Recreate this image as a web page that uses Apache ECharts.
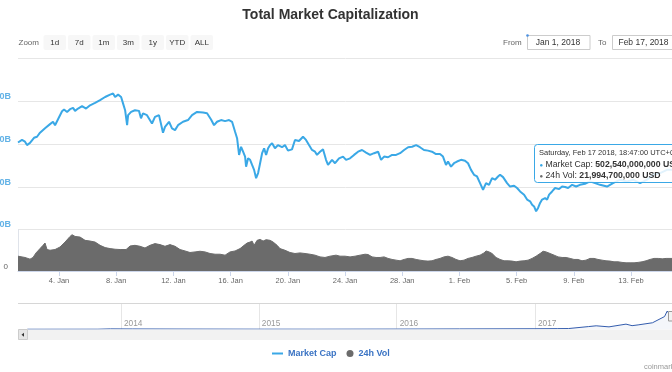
<!DOCTYPE html>
<html><head><meta charset="utf-8">
<script src="https://cdn.jsdelivr.net/npm/echarts@6/dist/echarts.min.js"></script>
<style>html,body{margin:0;padding:0;background:#fff}#c{width:672px;height:372px}</style>
</head><body><div id="c"></div>
<script>
const titleText = 'Total Market Capitalization';
const zoomButtons = ['1d','7d','1m','3m','1y','YTD','ALL'];
const fromText = 'Jan 1, 2018', toText = 'Feb 17, 2018';
const tooltipDate = 'Saturday, Feb 17 2018, 18:47:00 UTC+03';
const capName = 'Market Cap', volName = '24h Vol';
const creditText = 'coinmarketcap.com';
const monthNames = ['Jan','Feb','Mar','Apr','May','Jun','Jul','Aug','Sep','Oct','Nov','Dec'];
// x tick positions: days after 1 Jan 2018 00:00 UTC
const xTickDays = [3,7,11,15,19,23,27,31,35,39,43];
const capAxisMin = 200, capAxisMax = 1000, capAxisStep = 200;
const volAxisMax = 70;
// Market cap (billion USD), day offsets from 1 Jan 2018
const capDays = [0.13,0.41,0.62,0.76,0.97,1.25,1.46,1.67,2.02,2.37,
2.58,2.72,2.93,3.21,3.35,3.56,3.77,3.98,4.12,4.33,
4.61,4.89,5.17,5.52,5.87,6.22,6.57,6.78,6.92,7.13,
7.34,7.48,7.62,7.76,7.83,8.04,8.31,8.59,8.73,8.87,
9.15,9.50,9.71,9.99,10.27,10.41,10.69,10.90,11.11,11.32,
11.67,12.02,12.30,12.65,13.07,13.35,13.63,13.84,14.05,14.33,
14.61,14.89,15.10,15.31,15.45,15.59,15.73,15.87,16.01,16.08,
16.22,16.36,16.50,16.64,16.78,16.92,17.06,17.20,17.34,17.48,
17.62,17.76,17.90,18.10,18.31,18.59,18.80,19.01,19.29,19.50,
19.78,20.06,20.27,20.48,20.69,20.90,21.04,21.25,21.46,21.67,
21.81,22.09,22.30,22.58,22.86,23.07,23.35,23.63,23.91,24.19,
24.47,24.75,25.03,25.31,25.52,25.73,26.01,26.29,26.57,26.85,
27.13,27.41,27.69,27.97,28.24,28.52,28.80,29.08,29.36,29.64,
29.85,30.06,30.20,30.41,30.62,30.83,31.11,31.39,31.60,31.81,
32.02,32.23,32.44,32.65,32.86,33.07,33.28,33.49,33.70,33.84,
34.05,34.33,34.54,34.82,35.03,35.24,35.52,35.73,35.94,36.08,
36.22,36.36,36.50,36.64,36.78,36.99,37.13,37.27,37.48,37.69,
37.97,38.18,38.39,38.60,38.88,39.16,39.43,39.78,40.13,40.48,
40.83,41.32,41.74,42.23,42.72,43.14,43.63,44.12,44.54,45.03,
45.52,45.87,46.78,47.78];
const capVals = [607,619,611,595,605,629,634,653,674,693,
704,688,716,753,761,750,763,769,755,766,
777,766,781,792,805,820,831,836,820,831,
820,789,758,688,735,750,758,755,720,743,
735,696,727,735,653,680,704,673,665,688,
704,712,735,750,747,744,715,688,704,712,
707,712,704,657,627,549,587,564,541,494,
533,526,502,479,440,464,510,557,580,549,
580,595,603,580,595,585,595,569,575,619,
614,634,619,595,572,564,549,564,575,526,
502,526,510,533,541,526,533,549,564,572,
560,549,557,564,526,541,538,549,549,557,
572,585,587,595,585,572,569,564,553,553,
541,502,518,494,510,518,526,522,510,479,
456,448,417,386,417,409,440,433,448,456,
445,417,401,405,394,378,363,340,332,316,
308,285,301,324,340,347,340,363,378,394,
389,401,399,394,409,401,409,414,425,417,
409,401,417,433,425,433,417,433,456,464,
479,479,488,502.54];
// 24h volume (billion USD)
const volDays = [0.13,0.62,0.97,1.18,1.39,1.67,1.88,2.02,2.16,2.37,
2.72,3.07,3.42,3.77,3.91,4.12,4.47,4.82,5.17,5.52,
5.87,6.22,6.57,6.92,7.27,7.69,7.97,8.31,8.66,9.01,
9.36,9.71,10.06,10.41,10.76,11.11,11.46,11.81,12.16,12.51,
12.86,13.21,13.56,13.91,14.26,14.61,14.96,15.31,15.66,15.94,
16.15,16.36,16.50,16.64,16.85,17.06,17.27,17.48,17.76,17.97,
18.25,18.45,18.80,19.15,19.50,19.85,20.20,20.55,20.90,21.25,
21.60,21.95,22.37,22.65,23.00,23.35,23.70,24.05,24.40,24.61,
24.89,25.17,25.45,25.73,26.01,26.29,26.57,26.85,27.13,27.41,
27.69,27.97,28.24,28.52,28.80,29.08,29.36,29.64,29.92,30.20,
30.48,30.76,31.04,31.32,31.60,31.88,32.16,32.44,32.72,32.86,
33.07,33.28,33.56,33.84,34.12,34.40,34.68,34.96,35.24,35.52,
35.80,36.08,36.36,36.64,36.85,37.06,37.34,37.62,37.90,38.18,
38.46,38.74,39.01,39.29,39.57,39.85,40.13,40.41,40.69,40.97,
41.25,41.53,41.81,42.09,42.37,42.65,42.93,43.21,43.49,43.77,
44.05,44.33,44.61,44.90,45.18,45.45,45.87,46.80,47.78];
const volVals = [25.0,22.8,20.0,22.8,30.5,37.8,43.3,47.2,36.2,35.0,
36.2,40.5,48.8,58.3,61.2,58.3,57.2,51.7,50.5,48.8,
43.3,39.5,37.8,36.7,36.2,36.2,42.2,43.3,41.7,38.8,
43.3,46.2,44.5,41.7,44.5,41.7,36.2,33.8,31.2,32.2,
33.3,32.2,29.5,28.3,28.3,26.7,32.2,33.8,37.8,43.3,
47.2,48.8,50.5,43.3,51.7,53.3,50.5,52.8,51.7,48.8,
43.3,37.8,35.0,31.2,29.5,30.5,29.5,28.3,26.7,23.8,
22.8,25.0,26.7,25.0,25.0,23.8,25.0,26.7,28.3,27.8,
23.8,22.8,22.8,23.8,21.2,19.5,18.3,17.2,19.5,21.2,
21.2,19.5,18.3,17.2,16.7,17.2,19.5,21.2,23.8,25.0,
22.8,19.5,17.2,18.3,21.2,22.8,25.0,26.7,30.5,33.8,
32.2,29.5,22.8,19.5,17.2,17.2,16.7,15.5,16.7,17.2,
18.3,21.2,25.0,29.5,33.3,32.2,29.5,26.7,23.8,22.8,
22.8,21.2,19.5,19.5,17.2,18.3,21.2,21.2,19.5,18.3,
17.2,16.7,15.5,15.5,14.5,13.8,13.8,13.8,14.5,15.5,
17.2,19.5,21.2,21.2,20.5,21.2,21.2,21.5,21.9947];
// navigator (full history, billion USD)
const navDates = ['2013-04-28','2013-11-01','2013-12-04','2014-02-01','2014-06-01','2015-01-15','2015-06-01','2016-01-01','2016-06-15','2017-01-01','2017-03-01','2017-03-31','2017-05-23','2017-06-12','2017-07-16','2017-08-30','2017-09-15','2017-10-01','2017-11-08','2017-11-12','2017-12-10','2017-12-17','2017-12-22','2018-01-01','2018-01-07','2018-01-17','2018-02-06','2018-02-17'];
const navVals = [1.5,3,14,11,8,4,3.5,7,12,18,22,25,90,115,80,170,120,145,215,190,420,600,520,600,830,450,285,502.5];
const navYears = [2014,2015,2016,2017];

const DAY = 864e5;
const base = Date.UTC(2018,0,1);
const toT = d => base + d*DAY;
const parseD = s => { const p = s.split('-').map(Number); return Date.UTC(p[0],p[1]-1,p[2]); };
const xMin = toT(capDays[0]), xMax = toT(capDays[capDays.length-1]);
const navMin = parseD(navDates[0]), navMax = xMax;
const capData = capDays.map((d,i)=>[toT(d), capVals[i]]);
const volData = volDays.map((d,i)=>[toT(d), volVals[i]]);
const navData = navDates.map((s,i)=>[parseD(s), navVals[i]]);
const xTicks = xTickDays.map(toT);
const navTicks = navYears.map(y=>Date.UTC(y,0,1));
const fmtUSD = v => Math.round(v*1e9).toLocaleString('en-US') + ' USD';
const lastCap = capVals[capVals.length-1], lastVol = volVals[volVals.length-1];

const FF = '"Liberation Sans", Arial, sans-serif';
const capColor = '#3aa8e6', volColor = '#6b6b6b';
const G = { left: 18, width: 681.4 };

const graphics = [];
const txt = (x,y,text,size,fill,align,weight) => ({type:'text', x, y, z:50,
  style:{text, fontSize:size, fontFamily:FF, fontWeight:weight||'normal', fill, align:align||'left', verticalAlign:'middle'}});
graphics.push(txt(330.5, 15.5, titleText, 14, '#333', 'center', 'bold'));
graphics.push(txt(18.5, 42.5, 'Zoom', 8, '#666'));
zoomButtons.forEach((b,i)=>{
  const x = 43.5 + i*24.5;
  graphics.push({type:'rect', z:40, shape:{x, y:35, width:22.5, height:15, r:2}, style:{fill:'#f7f7f7'}});
  graphics.push(txt(x+11.25, 42.5, b, 8, '#333', 'center'));
});
graphics.push(txt(503, 42.5, 'From', 8, '#666'));
graphics.push({type:'rect', z:40, shape:{x:527.5, y:35.5, width:62.5, height:14}, style:{fill:'#fff', stroke:'#ccc', lineWidth:1}});
graphics.push(txt(558, 42.5, fromText, 8.5, '#333', 'center'));
graphics.push({type:'circle', z:45, shape:{cx:527.5, cy:35.5, r:1.3}, style:{fill:'#4a90e2'}});
graphics.push(txt(598, 42.5, 'To', 8, '#666'));
graphics.push({type:'rect', z:40, shape:{x:612.5, y:35.5, width:62.5, height:14}, style:{fill:'#fff', stroke:'#ccc', lineWidth:1}});
graphics.push(txt(643.5, 42.5, toText, 8.5, '#333', 'center'));
// navigator top outline & scrollbar
graphics.push({type:'line', z:30, shape:{x1:18, y1:303.5, x2:672, y2:303.5}, style:{stroke:'#d6d6d6', lineWidth:1}});
graphics.push({type:'rect', z:5, shape:{x:18, y:329.5, width:654, height:10.5}, style:{fill:'#f2f2f2'}});
graphics.push({type:'rect', z:6, shape:{x:18.5, y:329.5, width:9, height:10}, style:{fill:'#e6e6e6', stroke:'#cccccc', lineWidth:1}});
graphics.push({type:'polygon', z:7, shape:{points:[[21.5,334.8],[24,332.8],[24,336.8]]}, style:{fill:'#333'}});
graphics.push({type:'rect', z:31, shape:{x:668.5, y:311.5, width:8, height:9.5}, style:{fill:'#f2f2f2', stroke:'#999', lineWidth:1}});
// tooltip
graphics.push({type:'rect', z:60, shape:{x:534.5, y:144.5, width:170, height:38, r:3}, style:{fill:'rgba(255,255,255,0.85)', stroke:capColor, lineWidth:1}});
graphics.push({type:'text', z:61, x:539, y:153, style:{text:tooltipDate, fontSize:7.5, fontFamily:FF, fill:'#333', verticalAlign:'middle'}});
const ttLine = (y, dotColor, name, val) => ({type:'text', z:61, x:539.5, y, style:{
  text:'{d|●} ' + name + ': {b|' + val + '}', fontSize:8.7, fontFamily:FF, fill:'#333', verticalAlign:'middle',
  rich:{d:{fill:dotColor, fontSize:6, fontFamily:FF}, b:{fontWeight:'bold', fontSize:8.7, fontFamily:FF, fill:'#333'}}}});
graphics.push(ttLine(165, capColor, capName, fmtUSD(lastCap)));
graphics.push(ttLine(176, volColor, volName, fmtUSD(lastVol)));
graphics.push(txt(644, 367, creditText, 7.5, '#999'));

const option = {
  animation: false,
  backgroundColor: '#fff',
  grid: [
    {left:G.left, width:G.width, top:58.5, height:171, outerBoundsMode:'none', containLabel:false},
    {left:G.left, width:G.width, top:229.5, height:41.5, outerBoundsMode:'none', containLabel:false},
    {left:27.3, width:663.6, top:303.5, height:25.8, outerBoundsMode:'none', containLabel:false}
  ],
  xAxis: [
    {gridIndex:0, type:'value', min:xMin, max:xMax, show:false, splitLine:{show:false}},
    {gridIndex:1, type:'value', min:xMin, max:xMax,
      axisLine:{show:true, lineStyle:{color:'#ccd6eb', width:1}},
      axisTick:{show:true, customValues:xTicks, length:5, lineStyle:{color:'#ccd6eb'}},
      splitLine:{show:false},
      axisLabel:{customValues:xTicks, margin:6, fontSize:7.5, fontFamily:FF, color:'#666',
        formatter:v=>{const d=new Date(v); return d.getUTCDate()+'. '+monthNames[d.getUTCMonth()];}}},
    {gridIndex:2, type:'value', min:navMin, max:navMax,
      axisLine:{show:false},
      axisTick:{show:true, inside:true, length:26, customValues:navTicks, lineStyle:{color:'#e6e6e6'}},
      splitLine:{show:false},
      axisLabel:{inside:true, customValues:navTicks, margin:2, align:'left', verticalAlign:'bottom', padding:[0,0,0,3],
        fontSize:8.3, fontFamily:FF, color:'#999', formatter:v=>String(new Date(v).getUTCFullYear())}}
  ],
  yAxis: [
    {gridIndex:0, type:'value', min:capAxisMin, max:capAxisMax, interval:capAxisStep,
      axisLine:{show:false}, axisTick:{show:false},
      splitLine:{show:true, lineStyle:{color:'#e6e6e6', width:1}},
      axisLabel:{margin:7, showMaxLabel:false, showMinLabel:true, fontSize:9, fontWeight:'bold', fontFamily:FF,
        color:'#62b2e6', verticalAlign:'bottom', formatter:v=>v+'B'}},
    {gridIndex:1, type:'value', min:0, max:volAxisMax, interval:volAxisMax,
      axisLine:{show:true, lineStyle:{color:'#dfe3ea'}}, axisTick:{show:false},
      splitLine:{show:false},
      axisLabel:{margin:10, fontSize:8, fontFamily:FF, color:'#666', verticalAlign:'bottom',
        formatter:v=>v===0?'0':''}},
    {gridIndex:2, type:'value', min:0, max:850, show:false, splitLine:{show:false}}
  ],
  legend: [
    {data:[capName], left:272, top:349, padding:0, icon:'rect', itemWidth:11, itemHeight:2,
      textStyle:{fontSize:9, fontWeight:'bold', fontFamily:FF, color:'#3b74c4'}},
    {data:[volName], left:346.5, top:349, padding:0, icon:'circle', itemWidth:7, itemHeight:7,
      textStyle:{fontSize:9, fontWeight:'bold', fontFamily:FF, color:'#3b74c4'}}
  ],
  series: [
    {name:capName, type:'line', xAxisIndex:0, yAxisIndex:0, data:capData, showSymbol:false, symbol:'none',
      lineStyle:{color:capColor, width:2}, itemStyle:{color:capColor}, z:3},
    {name:volName, type:'line', xAxisIndex:1, yAxisIndex:1, data:volData, showSymbol:false, symbol:'none',
      lineStyle:{color:volColor, width:1}, itemStyle:{color:volColor}, areaStyle:{color:volColor, opacity:1}, z:2},
    {name:'nav', type:'line', xAxisIndex:2, yAxisIndex:2, data:navData, showSymbol:false, symbol:'none',
      lineStyle:{color:'#335cad', width:1}, itemStyle:{color:'#335cad'}, areaStyle:{color:'rgba(51,92,173,0.08)'}, z:3}
  ],
  graphic: graphics
};
const chart = echarts.init(document.getElementById('c'), null, {renderer:'canvas'});
chart.setOption(option);
</script></body></html>
